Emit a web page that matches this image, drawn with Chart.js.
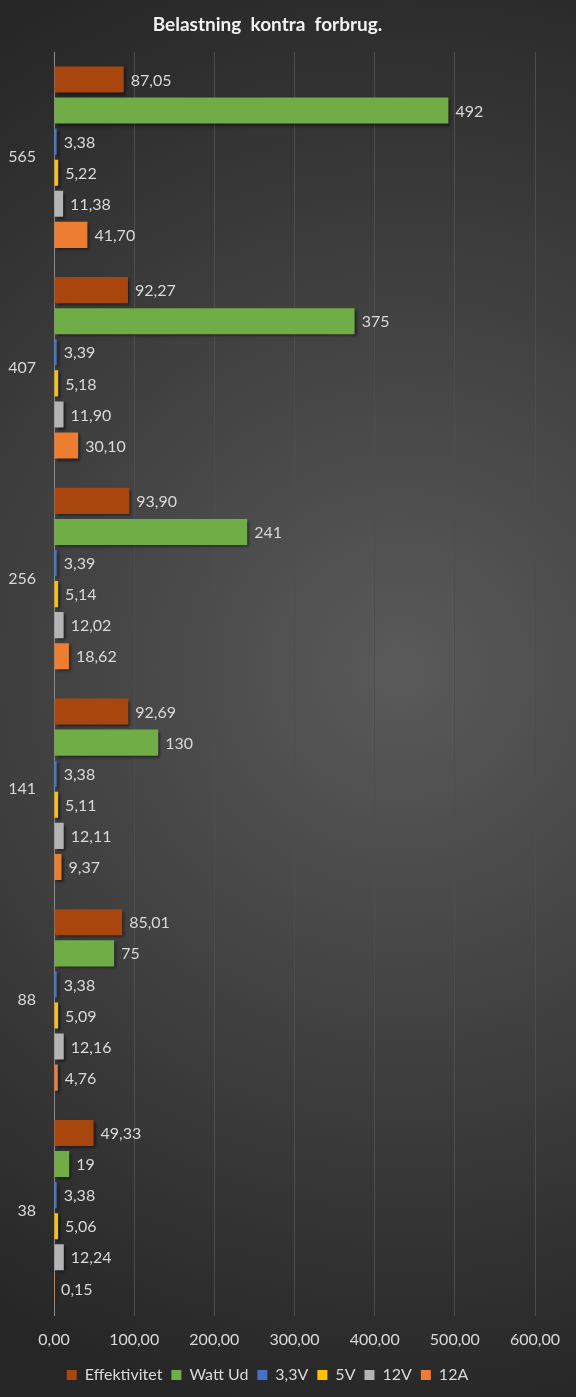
<!DOCTYPE html>
<html>
<head>
<meta charset="utf-8">
<script src="https://cdn.jsdelivr.net/npm/chart.js@4"></script>
<style>
  html, body { margin: 0; padding: 0; background: #2b2b2b; }
  canvas { display: block; }
</style>
</head>
<body>
<canvas id="chart" width="576" height="1397"></canvas>
<script>
const belastning = ["565", "407", "256", "141", "88", "38"];

const effektivitet = [87.05, 92.27, 93.90, 92.69, 85.01, 49.33];
const wattUd = [492, 375, 241, 130, 75, 19];
const v33 = [3.38, 3.39, 3.39, 3.38, 3.38, 3.38];
const v5 = [5.22, 5.18, 5.14, 5.11, 5.09, 5.06];
const v12 = [11.38, 11.90, 12.02, 12.11, 12.16, 12.24];
const a12 = [41.70, 30.10, 18.62, 9.37, 4.76, 0.15];

const xTicks = [0, 100, 200, 300, 400, 500, 600];

const textColor = '#d9d9d9';
const fontFamily = 'Lato, "Open Sans", sans-serif';

function komma(v, dec) {
    return v.toFixed(dec).replace('.', ',');
}

// dark radial background like the excel chart area
const bgPlugin = {
    id: 'bg',
    beforeDraw(chart) {
        const ctx = chart.ctx;
        const g = ctx.createRadialGradient(400, 670, 0, 400, 670, 760);
        g.addColorStop(0, '#5a5a5a');
        g.addColorStop(1, '#262626');
        ctx.save();
        ctx.fillStyle = g;
        ctx.fillRect(0, 0, chart.width, chart.height);
        ctx.restore();
    }
};

// soft shadow under bars
const shadowPlugin = {
    id: 'shadow',
    beforeDatasetDraw(chart) {
        const ctx = chart.ctx;
        ctx.save();
        ctx.shadowColor = 'rgba(0,0,0,0.55)';
        ctx.shadowBlur = 3;
        ctx.shadowOffsetX = 2;
        ctx.shadowOffsetY = 2;
    },
    afterDatasetDraw(chart) {
        chart.ctx.restore();
    }
};

// value labels at the end of each bar
const labelPlugin = {
    id: 'valueLabels',
    afterDatasetsDraw(chart) {
        const ctx = chart.ctx;
        ctx.save();
        ctx.font = '16px ' + fontFamily;
        ctx.fillStyle = textColor;
        ctx.textBaseline = 'middle';
        ctx.textAlign = 'left';
        chart.data.datasets.forEach((ds, i) => {
            const meta = chart.getDatasetMeta(i);
            meta.data.forEach((bar, j) => {
                const v = ds.data[j];
                const txt = ds.label === 'Watt Ud' ? String(v) : komma(v, 2);
                ctx.fillText(txt, bar.x + 7, bar.y + 1);
            });
        });
        ctx.restore();
    }
};

const data = {
    labels: belastning,
    datasets: [
        { label: 'Effektivitet', data: effektivitet, backgroundColor: '#a9460e' },
        { label: 'Watt Ud', data: wattUd, backgroundColor: '#70ad47' },
        { label: '3,3V', data: v33, backgroundColor: '#4472c4' },
        { label: '5V', data: v5, backgroundColor: '#ffc000' },
        { label: '12V', data: v12, backgroundColor: '#b4b4b4' },
        { label: '12A', data: a12, backgroundColor: '#ed7d31' }
    ]
};

const config = {
    type: 'bar',
    data: data,
    options: {
        indexAxis: 'y',
        responsive: false,
        animation: false,
        datasets: {
            bar: {
                barPercentage: 0.84,
                categoryPercentage: 0.885
            }
        },
        layout: {
            padding: { left: 0, right: 41, top: 0, bottom: 4 }
        },
        scales: {
            x: {
                min: 0,
                max: 600,
                afterBuildTicks: (s) => { s.ticks = xTicks.map(v => ({ value: v })); },
                afterFit: (s) => { s.height = 42; },
                border: { display: false },
                grid: {
                    color: (c) => c.tick && c.tick.value === 0 ? '#8a8a8a' : '#4d4d4d',
                    lineWidth: 1,
                    drawTicks: false
                },
                ticks: {
                    color: textColor,
                    font: { size: 16, family: fontFamily },
                    padding: 14,
                    maxRotation: 0,
                    callback: (v) => komma(v, 2)
                }
            },
            y: {
                afterFit: (s) => { s.width = 54; },
                border: { display: false },
                grid: { display: false, drawTicks: false },
                ticks: {
                    color: textColor,
                    font: { size: 16, family: fontFamily },
                    padding: 18
                }
            }
        },
        plugins: {
            title: {
                display: true,
                text: 'Belastning  kontra  forbrug.',
                color: '#f2f2f2',
                font: { size: 19, weight: 'bold', family: fontFamily },
                padding: { top: 13, bottom: 16 }
            },
            legend: {
                position: 'bottom',
                labels: {
                    color: textColor,
                    font: { size: 16, family: fontFamily },
                    boxWidth: 10,
                    boxHeight: 10,
                    padding: 9
                }
            },
            tooltip: { enabled: false }
        }
    },
    plugins: [bgPlugin, shadowPlugin, labelPlugin]
};

const chart = new Chart(document.getElementById('chart'), config);
</script>
</body>
</html>
